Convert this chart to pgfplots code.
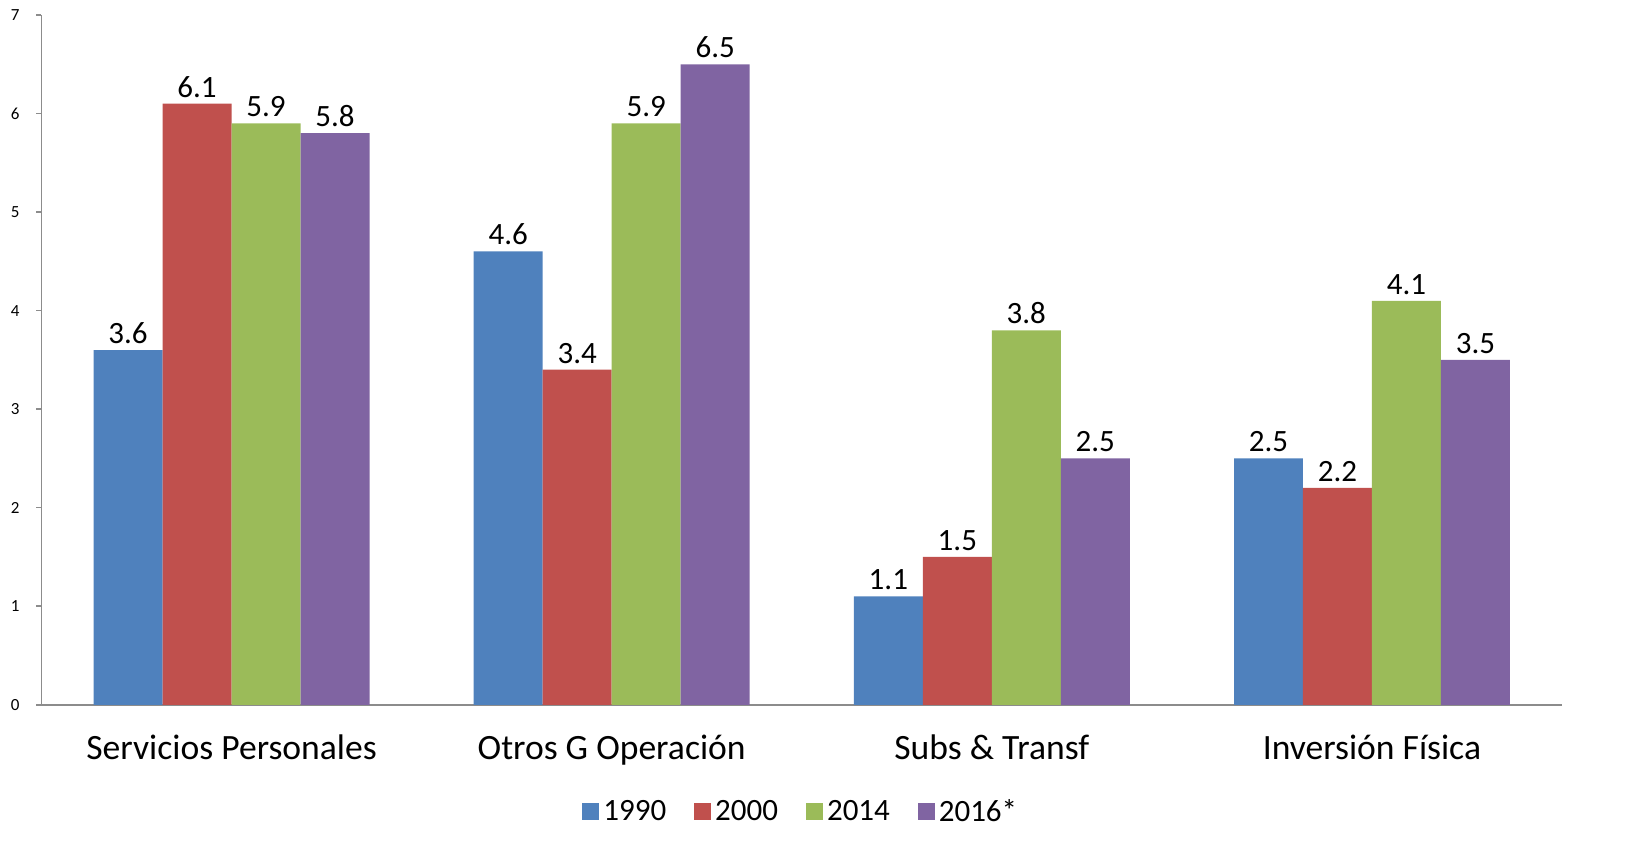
\documentclass[border=0pt]{standalone}
\usepackage{pgfplots}
\pgfplotsset{compat=1.18}
\usepackage{fontspec}
\setmainfont{Carlito}
\usetikzlibrary{calc}

\definecolor{c1990}{HTML}{4F81BD}
\definecolor{c2000}{HTML}{C0504D}
\definecolor{c2014}{HTML}{9BBB59}
\definecolor{c2016}{HTML}{8064A2}
\definecolor{axgray}{HTML}{8C8C8C}

\begin{document}
\begin{tikzpicture}
\begin{axis}[
  name=ax,
  at={(0,0)}, anchor=south west,
  scale only axis,
  width=760.5pt, height=345pt,
  xmin=-0.5, xmax=3.5,
  ymin=0, ymax=7,
  ybar=0pt, bar width=34.5pt,
  axis lines*=left,
  axis line style={axgray, line width=0.8pt},
  tick align=outside,
  tick style={axgray, line width=0.8pt},
  major tick length=2.5pt,
  ytick={0,1,...,7},
  yticklabel style={font=\fontsize{8.5}{10}\selectfont, xshift=-5pt},
  /pgf/number format/assume math mode=true,
  xtick={0,1,2,3},
  xticklabels={Servicios Personales, Otros G Operación, Subs \& Transf, Inversión Física},
  xticklabel style={font=\fontsize{17.8}{21}\selectfont, yshift=-9pt},
  x tick style={draw=none},
  extra x ticks={-0.5,0.5,1.5,2.5,3.5},
  extra x tick labels={},
  extra x tick style={major tick length=5pt, tick style={axgray, line width=0.8pt}},
  nodes near coords,
  every node near coord/.append style={font=\fontsize{15.5}{18}\selectfont, black,
    anchor=south, inner sep=0pt, yshift=3pt},
  legend style={draw=none, at={(0.5,-0.155)}, anchor=center,
    legend columns=4, font=\fontsize{15.5}{18}\selectfont,
    /tikz/every even column/.append style={column sep=12pt}},
  legend image code/.code={\fill[#1] (0pt,-4.25pt) rectangle (8.5pt,4.25pt);},
]
\addplot[fill=c1990, draw=none] coordinates {(0,3.6) (1,4.6) (2,1.1) (3,2.5)};
\addplot[fill=c2000, draw=none] coordinates {(0,6.1) (1,3.4) (2,1.5) (3,2.2)};
\addplot[fill=c2014, draw=none] coordinates {(0,5.9) (1,5.9) (2,3.8) (3,4.1)};
\addplot[fill=c2016, draw=none] coordinates {(0,5.8) (1,6.5) (2,2.5) (3,3.5)};
\legend{1990,2000,2014,2016*}
\end{axis}
% page frame around the plot area (1px = 0.5pt)
\pgfresetboundingbox
\path[use as bounding box] ($(ax.south west)+(-20.75pt,-78.5pt)$) rectangle ($(ax.north east)+(36pt,7.5pt)$);
\end{tikzpicture}
\end{document}
